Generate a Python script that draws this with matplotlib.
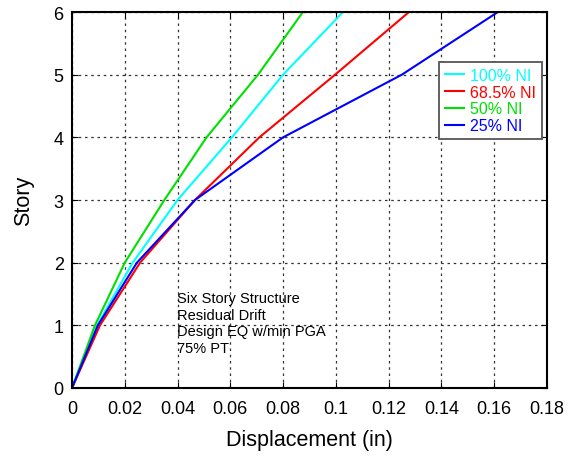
import numpy as np
import matplotlib
matplotlib.use('Agg')
from matplotlib import pyplot as plt

plt.rcParams['font.family'] = ['Liberation Sans', 'DejaVu Sans']

# 楼层
story = [0, 1, 2, 3, 4, 5, 6]
# 各工况位移 (in)
ni_100 = [0, 0.0095, 0.023, 0.040, 0.0606, 0.080, 0.1027]
ni_685 = [0, 0.0106, 0.0258, 0.0466, 0.071, 0.0997, 0.1277]
ni_50 = [0, 0.0087, 0.020, 0.035, 0.051, 0.0705, 0.0875]
ni_25 = [0, 0.0098, 0.0246, 0.0466, 0.080, 0.125, 0.1614]

labels = ['100% NI', '68.5% NI', '50% NI', '25% NI']
colors = ['#00ffff', '#ff0000', '#00e000', '#0000ff']
series = [ni_100, ni_685, ni_50, ni_25]

fig = plt.figure(figsize=(5.76, 4.6), dpi=100)
ax = fig.add_axes([72 / 576, 1 - 389 / 460, 475 / 576, 376 / 460])

for s, c, lb in zip(series, colors, labels):
    ax.plot(s, story, color=c, lw=1.5, label=lb)

ax.set_xlim(0, 0.18)
ax.set_ylim(0, 6)
ax.set_xticks(np.arange(0, 0.181, 0.02))
ax.set_xticklabels(['0', '0.02', '0.04', '0.06', '0.08', '0.1', '0.12', '0.14', '0.16', '0.18'])
ax.set_yticks(range(7))
ax.tick_params(direction='in', top=True, right=True, labelsize=13, length=4)
ax.tick_params(axis='x', pad=9)
ax.tick_params(axis='y', pad=6)
ax.grid(True, color='#333333', linestyle=(0, (2, 3)), lw=0.9)
for sp in ax.spines.values():
    sp.set_linewidth(1.5)

ax.set_xlabel('Displacement (in)', fontsize=15.5, labelpad=8)
ax.set_ylabel('Story', fontsize=15.5, labelpad=14)

leg = ax.legend(loc='upper right', bbox_to_anchor=(0.989, 0.867), fontsize=11.5,
                handlelength=1.2, handletextpad=0.4, borderpad=0.35,
                labelspacing=0.12, borderaxespad=0, fancybox=False,
                framealpha=1, edgecolor='#555555')
leg.get_frame().set_linewidth(1.3)
for t, c in zip(leg.get_texts(), colors):
    t.set_color(c)

ax.text(0.0398, 1.55, 'Six Story Structure\nResidual Drift\nDesign EQ w/min PGA\n75% PT',
        fontsize=10.5, va='top', ha='left', linespacing=1.25)

fig.savefig('out.png', dpi=100)
